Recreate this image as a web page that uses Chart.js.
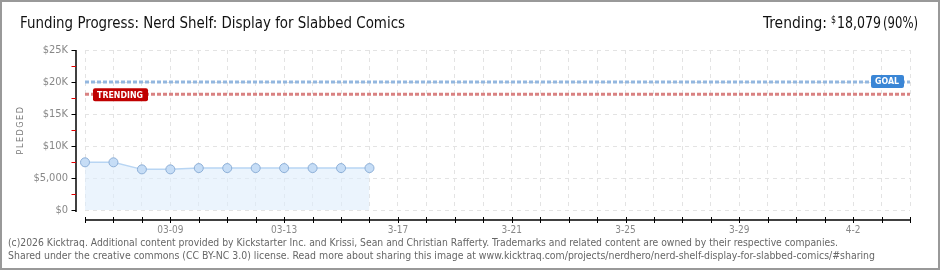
<!DOCTYPE html>
<html>
<head>
<meta charset="utf-8">
<script src="https://cdn.jsdelivr.net/npm/chart.js@4/dist/chart.umd.min.js"></script>
<style>
  html, body { margin: 0; padding: 0; background: #fff; }
  #wrap { width: 940px; height: 270px; position: relative; }
</style>
</head>
<body>
<div id="wrap"><canvas id="fundingChart" width="940" height="270"></canvas></div>
<script>
// days shown on the x axis (03-06 .. 04-04)
const days = ['03-06','03-07','03-08','03-09','03-10','03-11','03-12','03-13','03-14','03-15',
              '03-16','03-17','03-18','03-19','03-20','03-21','03-22','03-23','03-24','03-25',
              '03-26','03-27','03-28','03-29','03-30','03-31','04-01','04-02','04-03','04-04'];
const xTickIndex = [3, 7, 11, 15, 19, 23, 27];
const xTickText = ['03-09', '03-13', '3-17', '3-21', '3-25', '3-29', '4-2'];
const yTickText = ['$0', '$5,000', '$10K', '$15K', '$20K', '$25K'];

const pledged = [7450, 7450, 6350, 6350, 6550, 6550, 6550, 6550, 6550, 6550, 6550];
const goal = 20000;
const trending = 18079;

const FONT = '"DejaVu Sans Condensed", "DejaVu Sans", sans-serif';

// draw text squeezed/stretched to a given width
function fitText(ctx, text, x, y, width, font, color, align) {
    ctx.save();
    ctx.font = font;
    ctx.fillStyle = color;
    ctx.textBaseline = 'middle';
    const w = ctx.measureText(text).width;
    const s = width / w;
    let left = x;
    if (align === 'right') left = x - width;
    ctx.translate(left, y);
    ctx.scale(s, 1);
    ctx.textAlign = 'left';
    ctx.fillText(text, 0, 0);
    ctx.restore();
}

function tag(ctx, text, x, y, w, h, bg) {
    ctx.save();
    ctx.fillStyle = bg;
    ctx.beginPath();
    ctx.roundRect(x, y, w, h, 2);
    ctx.fill();
    ctx.restore();
    fitText(ctx, text, x + 4, y + h / 2 + 0.5, w - 9, 'bold 9px ' + FONT, '#fff', 'left');
}

const decor = {
    id: 'decor',
    beforeDraw(chart) {
        const ctx = chart.ctx;
        ctx.save();
        ctx.fillStyle = '#fff';
        ctx.fillRect(0, 0, chart.width, chart.height);
        ctx.restore();
    },
    afterDraw(chart) {
        const ctx = chart.ctx;
        const xs = chart.scales.x, ys = chart.scales.y;
        const area = chart.chartArea;

        // y axis line with major / minor ticks
        ctx.save();
        ctx.strokeStyle = '#000';
        ctx.lineWidth = 1.5;
        ctx.beginPath();
        ctx.moveTo(76, area.top);
        ctx.lineTo(76, area.bottom + 2);
        ctx.stroke();
        for (let v = 0; v <= 25000; v += 2500) {
            const y = Math.round(ys.getPixelForValue(v)) + 0.5;
            ctx.strokeStyle = (v % 5000 === 0) ? '#000' : '#e00000';
            ctx.lineWidth = 1;
            ctx.beginPath();
            ctx.moveTo(71.5, y);
            ctx.lineTo(76, y);
            ctx.stroke();
        }

        // x axis line with day ticks
        ctx.strokeStyle = '#000';
        ctx.lineWidth = 1.5;
        ctx.beginPath();
        ctx.moveTo(area.left, 220);
        ctx.lineTo(area.right + 1, 220);
        ctx.stroke();
        ctx.lineWidth = 1;
        days.forEach((d, i) => {
            const x = Math.round(xs.getPixelForValue(i)) + 0.5;
            ctx.beginPath();
            ctx.moveTo(x, 217);
            ctx.lineTo(x, 223);
            ctx.stroke();
        });
        ctx.restore();

        // labels on reference lines
        tag(ctx, 'TRENDING', 93, ys.getPixelForValue(trending) - 6, 55, 13, '#c00000');
        tag(ctx, 'GOAL', 871, ys.getPixelForValue(goal) - 7, 33, 13, '#3a86d6');

        // title
        fitText(ctx, 'Funding Progress: Nerd Shelf: Display for Slabbed Comics', 20, 24, 385,
                '16px ' + FONT, '#111', 'left');
        // trending summary
        fitText(ctx, '(90%)', 918, 24, 35, '16px ' + FONT, '#111', 'right');
        fitText(ctx, '18,079', 881, 24, 44, '16px ' + FONT, '#111', 'right');
        fitText(ctx, '$', 836, 20, 5, '10px ' + FONT, '#111', 'right');
        fitText(ctx, 'Trending:', 827, 24, 64, '16px ' + FONT, '#111', 'right');

        // y axis title
        ctx.save();
        ctx.translate(21, 130);
        ctx.rotate(-Math.PI / 2);
        ctx.font = '9px ' + FONT;
        ctx.fillStyle = '#777';
        ctx.textAlign = 'center';
        ctx.textBaseline = 'middle';
        if ('letterSpacing' in ctx) ctx.letterSpacing = '1.5px';
        ctx.fillText('PLEDGED', 0, 0);
        ctx.restore();

        // footer
        fitText(ctx, '(c)2026 Kicktraq. Additional content provided by Kickstarter Inc. and Krissi, Sean and Christian Rafferty. Trademarks and related content are owned by their respective companies.',
                8, 243, 830, '10px ' + FONT, '#666', 'left');
        fitText(ctx, 'Shared under the creative commons (CC BY-NC 3.0) license. Read more about sharing this image at www.kicktraq.com/projects/nerdhero/nerd-shelf-display-for-slabbed-comics/#sharing',
                8, 256, 867, '10px ' + FONT, '#666', 'left');

        // frame
        ctx.save();
        ctx.strokeStyle = '#999';
        ctx.lineWidth = 2;
        ctx.strokeRect(1, 1, chart.width - 2, chart.height - 2);
        ctx.restore();
    }
};

const ctx = document.getElementById('fundingChart').getContext('2d');
const chart = new Chart(ctx, {
    type: 'line',
    data: {
        labels: days,
        datasets: [
            {
                label: 'Goal',
                data: days.map(() => goal),
                borderColor: '#93b7df',
                borderWidth: 3,
                borderDash: [4, 2],
                pointRadius: 0,
                fill: false
            },
            {
                label: 'Trending',
                data: days.map(() => trending),
                borderColor: '#d98282',
                borderWidth: 3,
                borderDash: [4, 2],
                pointRadius: 0,
                fill: false
            },
            {
                label: 'Pledged',
                data: pledged,
                borderColor: '#b8d5f3',
                borderWidth: 1.5,
                backgroundColor: 'rgba(222, 236, 251, 0.6)',
                fill: 'origin',
                tension: 0,
                pointRadius: 4.5,
                pointBackgroundColor: '#c6ddf6',
                pointBorderColor: '#8eb0d8',
                pointBorderWidth: 1
            }
        ]
    },
    options: {
        responsive: false,
        animation: false,
        layout: { padding: { top: 50, right: 30, bottom: 0, left: 0 } },
        plugins: {
            legend: { display: false },
            tooltip: { enabled: false }
        },
        scales: {
            x: {
                offset: false,
                grid: { color: '#e3e3e3', drawTicks: false },
                border: { display: false, dash: [4, 4] },
                afterFit: s => { s.height = 60; },
                ticks: {
                    autoSkip: false,
                    maxRotation: 0,
                    padding: 14,
                    color: '#888',
                    font: { family: FONT, size: 10 },
                    callback: (v, i) => {
                        const k = xTickIndex.indexOf(i);
                        return k >= 0 ? xTickText[k] : '';
                    }
                }
            },
            y: {
                min: 0,
                max: 25000,
                grid: { color: '#e3e3e3', drawTicks: false },
                border: { display: false, dash: [4, 4] },
                afterFit: s => { s.width = 85; },
                ticks: {
                    stepSize: 5000,
                    padding: 17,
                    color: '#888',
                    font: { family: FONT, size: 11 },
                    callback: v => yTickText[v / 5000]
                }
            }
        }
    },
    plugins: [decor]
});
</script>
</body>
</html>
